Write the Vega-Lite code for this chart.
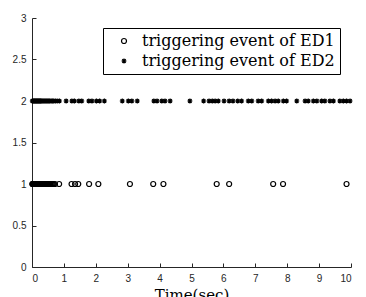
{
  "$schema": "https://vega.github.io/schema/vega-lite/v6.json",
  "width": 319,
  "height": 249,
  "autosize": "none",
  "padding": {"left": 32, "top": 18, "right": 15, "bottom": 30},
  "background": "white",
  "config": {
    "view": {"stroke": null},
    "axis": {
      "grid": false,
      "domainColor": "#262626",
      "tickColor": "#262626",
      "labelColor": "#262626",
      "labelFont": "Liberation Sans",
      "labelFontSize": 10,
      "titleFont": "DejaVu Serif",
      "titleFontWeight": "normal",
      "titleFontSize": 15,
      "titleColor": "#000000"
    }
  },
  "data": {
    "values": [
      {"t": 0.01, "y": 1, "ev": "triggering event of ED1"},
      {"t": 0.02, "y": 1, "ev": "triggering event of ED1"},
      {"t": 0.03, "y": 1, "ev": "triggering event of ED1"},
      {"t": 0.05, "y": 1, "ev": "triggering event of ED1"},
      {"t": 0.06, "y": 1, "ev": "triggering event of ED1"},
      {"t": 0.08, "y": 1, "ev": "triggering event of ED1"},
      {"t": 0.09, "y": 1, "ev": "triggering event of ED1"},
      {"t": 0.11, "y": 1, "ev": "triggering event of ED1"},
      {"t": 0.12, "y": 1, "ev": "triggering event of ED1"},
      {"t": 0.14, "y": 1, "ev": "triggering event of ED1"},
      {"t": 0.15, "y": 1, "ev": "triggering event of ED1"},
      {"t": 0.17, "y": 1, "ev": "triggering event of ED1"},
      {"t": 0.19, "y": 1, "ev": "triggering event of ED1"},
      {"t": 0.2, "y": 1, "ev": "triggering event of ED1"},
      {"t": 0.22, "y": 1, "ev": "triggering event of ED1"},
      {"t": 0.24, "y": 1, "ev": "triggering event of ED1"},
      {"t": 0.25, "y": 1, "ev": "triggering event of ED1"},
      {"t": 0.27, "y": 1, "ev": "triggering event of ED1"},
      {"t": 0.29, "y": 1, "ev": "triggering event of ED1"},
      {"t": 0.31, "y": 1, "ev": "triggering event of ED1"},
      {"t": 0.33, "y": 1, "ev": "triggering event of ED1"},
      {"t": 0.35, "y": 1, "ev": "triggering event of ED1"},
      {"t": 0.37, "y": 1, "ev": "triggering event of ED1"},
      {"t": 0.39, "y": 1, "ev": "triggering event of ED1"},
      {"t": 0.41, "y": 1, "ev": "triggering event of ED1"},
      {"t": 0.43, "y": 1, "ev": "triggering event of ED1"},
      {"t": 0.45, "y": 1, "ev": "triggering event of ED1"},
      {"t": 0.47, "y": 1, "ev": "triggering event of ED1"},
      {"t": 0.49, "y": 1, "ev": "triggering event of ED1"},
      {"t": 0.51, "y": 1, "ev": "triggering event of ED1"},
      {"t": 0.53, "y": 1, "ev": "triggering event of ED1"},
      {"t": 0.55, "y": 1, "ev": "triggering event of ED1"},
      {"t": 0.58, "y": 1, "ev": "triggering event of ED1"},
      {"t": 0.61, "y": 1, "ev": "triggering event of ED1"},
      {"t": 0.64, "y": 1, "ev": "triggering event of ED1"},
      {"t": 0.67, "y": 1, "ev": "triggering event of ED1"},
      {"t": 0.72, "y": 1, "ev": "triggering event of ED1"},
      {"t": 0.85, "y": 1, "ev": "triggering event of ED1"},
      {"t": 1.24, "y": 1, "ev": "triggering event of ED1"},
      {"t": 1.35, "y": 1, "ev": "triggering event of ED1"},
      {"t": 1.45, "y": 1, "ev": "triggering event of ED1"},
      {"t": 1.79, "y": 1, "ev": "triggering event of ED1"},
      {"t": 2.08, "y": 1, "ev": "triggering event of ED1"},
      {"t": 3.07, "y": 1, "ev": "triggering event of ED1"},
      {"t": 3.8, "y": 1, "ev": "triggering event of ED1"},
      {"t": 4.12, "y": 1, "ev": "triggering event of ED1"},
      {"t": 5.79, "y": 1, "ev": "triggering event of ED1"},
      {"t": 6.18, "y": 1, "ev": "triggering event of ED1"},
      {"t": 7.56, "y": 1, "ev": "triggering event of ED1"},
      {"t": 7.87, "y": 1, "ev": "triggering event of ED1"},
      {"t": 9.86, "y": 1, "ev": "triggering event of ED1"},
      {"t": 0.01, "y": 2, "ev": "triggering event of ED2"},
      {"t": 0.03, "y": 2, "ev": "triggering event of ED2"},
      {"t": 0.05, "y": 2, "ev": "triggering event of ED2"},
      {"t": 0.07, "y": 2, "ev": "triggering event of ED2"},
      {"t": 0.09, "y": 2, "ev": "triggering event of ED2"},
      {"t": 0.11, "y": 2, "ev": "triggering event of ED2"},
      {"t": 0.13, "y": 2, "ev": "triggering event of ED2"},
      {"t": 0.15, "y": 2, "ev": "triggering event of ED2"},
      {"t": 0.17, "y": 2, "ev": "triggering event of ED2"},
      {"t": 0.19, "y": 2, "ev": "triggering event of ED2"},
      {"t": 0.21, "y": 2, "ev": "triggering event of ED2"},
      {"t": 0.23, "y": 2, "ev": "triggering event of ED2"},
      {"t": 0.25, "y": 2, "ev": "triggering event of ED2"},
      {"t": 0.27, "y": 2, "ev": "triggering event of ED2"},
      {"t": 0.29, "y": 2, "ev": "triggering event of ED2"},
      {"t": 0.32, "y": 2, "ev": "triggering event of ED2"},
      {"t": 0.35, "y": 2, "ev": "triggering event of ED2"},
      {"t": 0.38, "y": 2, "ev": "triggering event of ED2"},
      {"t": 0.41, "y": 2, "ev": "triggering event of ED2"},
      {"t": 0.44, "y": 2, "ev": "triggering event of ED2"},
      {"t": 0.47, "y": 2, "ev": "triggering event of ED2"},
      {"t": 0.5, "y": 2, "ev": "triggering event of ED2"},
      {"t": 0.53, "y": 2, "ev": "triggering event of ED2"},
      {"t": 0.56, "y": 2, "ev": "triggering event of ED2"},
      {"t": 0.6, "y": 2, "ev": "triggering event of ED2"},
      {"t": 0.64, "y": 2, "ev": "triggering event of ED2"},
      {"t": 0.68, "y": 2, "ev": "triggering event of ED2"},
      {"t": 0.73, "y": 2, "ev": "triggering event of ED2"},
      {"t": 0.79, "y": 2, "ev": "triggering event of ED2"},
      {"t": 0.86, "y": 2, "ev": "triggering event of ED2"},
      {"t": 1.07, "y": 2, "ev": "triggering event of ED2"},
      {"t": 1.25, "y": 2, "ev": "triggering event of ED2"},
      {"t": 1.33, "y": 2, "ev": "triggering event of ED2"},
      {"t": 1.47, "y": 2, "ev": "triggering event of ED2"},
      {"t": 1.56, "y": 2, "ev": "triggering event of ED2"},
      {"t": 1.78, "y": 2, "ev": "triggering event of ED2"},
      {"t": 1.88, "y": 2, "ev": "triggering event of ED2"},
      {"t": 2.02, "y": 2, "ev": "triggering event of ED2"},
      {"t": 2.12, "y": 2, "ev": "triggering event of ED2"},
      {"t": 2.27, "y": 2, "ev": "triggering event of ED2"},
      {"t": 2.83, "y": 2, "ev": "triggering event of ED2"},
      {"t": 3.02, "y": 2, "ev": "triggering event of ED2"},
      {"t": 3.13, "y": 2, "ev": "triggering event of ED2"},
      {"t": 3.3, "y": 2, "ev": "triggering event of ED2"},
      {"t": 3.82, "y": 2, "ev": "triggering event of ED2"},
      {"t": 3.92, "y": 2, "ev": "triggering event of ED2"},
      {"t": 4.07, "y": 2, "ev": "triggering event of ED2"},
      {"t": 4.17, "y": 2, "ev": "triggering event of ED2"},
      {"t": 4.33, "y": 2, "ev": "triggering event of ED2"},
      {"t": 4.95, "y": 2, "ev": "triggering event of ED2"},
      {"t": 5.38, "y": 2, "ev": "triggering event of ED2"},
      {"t": 5.55, "y": 2, "ev": "triggering event of ED2"},
      {"t": 5.65, "y": 2, "ev": "triggering event of ED2"},
      {"t": 5.74, "y": 2, "ev": "triggering event of ED2"},
      {"t": 5.84, "y": 2, "ev": "triggering event of ED2"},
      {"t": 6.02, "y": 2, "ev": "triggering event of ED2"},
      {"t": 6.18, "y": 2, "ev": "triggering event of ED2"},
      {"t": 6.3, "y": 2, "ev": "triggering event of ED2"},
      {"t": 6.45, "y": 2, "ev": "triggering event of ED2"},
      {"t": 6.57, "y": 2, "ev": "triggering event of ED2"},
      {"t": 6.78, "y": 2, "ev": "triggering event of ED2"},
      {"t": 6.89, "y": 2, "ev": "triggering event of ED2"},
      {"t": 7.09, "y": 2, "ev": "triggering event of ED2"},
      {"t": 7.2, "y": 2, "ev": "triggering event of ED2"},
      {"t": 7.41, "y": 2, "ev": "triggering event of ED2"},
      {"t": 7.51, "y": 2, "ev": "triggering event of ED2"},
      {"t": 7.62, "y": 2, "ev": "triggering event of ED2"},
      {"t": 7.72, "y": 2, "ev": "triggering event of ED2"},
      {"t": 7.88, "y": 2, "ev": "triggering event of ED2"},
      {"t": 7.98, "y": 2, "ev": "triggering event of ED2"},
      {"t": 8.3, "y": 2, "ev": "triggering event of ED2"},
      {"t": 8.56, "y": 2, "ev": "triggering event of ED2"},
      {"t": 8.66, "y": 2, "ev": "triggering event of ED2"},
      {"t": 8.82, "y": 2, "ev": "triggering event of ED2"},
      {"t": 8.93, "y": 2, "ev": "triggering event of ED2"},
      {"t": 9.08, "y": 2, "ev": "triggering event of ED2"},
      {"t": 9.18, "y": 2, "ev": "triggering event of ED2"},
      {"t": 9.34, "y": 2, "ev": "triggering event of ED2"},
      {"t": 9.45, "y": 2, "ev": "triggering event of ED2"},
      {"t": 9.65, "y": 2, "ev": "triggering event of ED2"},
      {"t": 9.76, "y": 2, "ev": "triggering event of ED2"},
      {"t": 9.86, "y": 2, "ev": "triggering event of ED2"},
      {"t": 9.97, "y": 2, "ev": "triggering event of ED2"}
    ]
  },
  "mark": {"type": "point", "filled": false, "strokeWidth": 1.2, "size": 25, "opacity": 1, "color": "black"},
  "encoding": {
    "x": {
      "field": "t",
      "type": "quantitative",
      "scale": {"domain": [0, 10], "nice": false, "zero": false},
      "axis": {"values": [0,1,2,3,4,5,6,7,8,9,10], "format": "d", "title": "Time(sec)", "tickSize": -4, "labelPadding": 10, "titlePadding": 4}
    },
    "y": {
      "field": "y",
      "type": "quantitative",
      "scale": {"domain": [0, 3], "nice": false},
      "axis": {"values": [0,0.5,1,1.5,2,2.5,3], "format": "~g", "title": null, "tickSize": -4, "labelPadding": 10}
    },
    "shape": {
      "field": "ev",
      "type": "nominal",
      "scale": {"domain": ["triggering event of ED1", "triggering event of ED2"], "range": ["circle", "M-1,0L1,0M0,-1L0,1M-0.7,-0.7L0.7,0.7M-0.7,0.7L0.7,-0.7"]},
      "legend": {
        "orient": "none",
        "legendX": 71,
        "legendY": 10,
        "title": null,
        "strokeColor": "black",
        "fillColor": "white",
        "padding": 5,
        "labelFont": "DejaVu Serif",
        "labelFontSize": 16,
        "labelColor": "black",
        "labelLimit": 400,
        "labelOffset": 10,
        "symbolSize": 25,
        "symbolStrokeColor": "black",
        "symbolFillColor": "transparent",
        "symbolStrokeWidth": 1.2,
        "rowPadding": 4,
        "symbolOffset": 8
      }
    }
  }
}
